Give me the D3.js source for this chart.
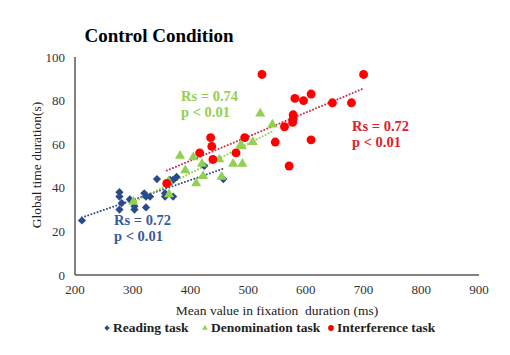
<!DOCTYPE html>
<html><head><meta charset="utf-8">
<script src="https://cdn.jsdelivr.net/npm/d3@7"></script>
<style>
body{margin:0;background:#fff;}
svg text{font-family:'Liberation Serif','Times New Roman',Tinos,'DejaVu Serif',serif;}
</style></head>
<body><svg id="c" width="510" height="355" font-family="'Liberation Serif', 'Times New Roman', serif"></svg>
<script>
const xTicks=[200,300,400,500,600,700,800,900];
const yTicks=[0,20,40,60,80,100];
const readingX=[212,277,277,281,277,295,303,303,320,323,330,323,342,356,370,367,376,370,424,457,365,356];
const readingY=[25,38,36,33,30,34.7,30,31.5,37.5,36,36,31,44,36,36,43,45,43.6,50,44,43.6,37.5];
const denomX=[521,542,508,487,474,490,450,420,405,382,391,410,422,454,363,362,301,489];
const denomY=[74,69,61,59.6,51,51,53,51,54,54.7,48,42,45.4,45,37,43,33.6,59];
const interfX=[524,700,581,609,596,646,679,578,578,577,563,547,609,571,494,479,435,437,439,416,359];
const interfY=[92,92,81,83,80,79,79,73.5,71.7,70,68,61,62,50,63,56,63,59,53,56,42];
const seriesNames=["Reading task","Denomination task","Interference task"];
const stats=[["Rs = 0.72","p < 0.01"],["Rs = 0.74","p < 0.01"],["Rs = 0.72","p < 0.01"]];

const FONT="'Liberation Serif', 'Times New Roman', serif";
const svg=d3.select("#c");
const x=d3.scaleLinear().domain([200,900]).range([75,479]);
const y=d3.scaleLinear().domain([0,100]).range([275,57]);

svg.append("line").attr("x1",75).attr("x2",75).attr("y1",57).attr("y2",275).attr("stroke","#595959").attr("stroke-width",1.5);
svg.append("line").attr("x1",75).attr("x2",479).attr("y1",275).attr("y2",275).attr("stroke","#595959").attr("stroke-width",1.5);
svg.selectAll(".xt").data(xTicks).join("text").attr("font-family",FONT).attr("x",d=>x(d)).attr("y",294).attr("text-anchor","middle").attr("font-size",13).attr("fill","#333").text(d=>d);
svg.selectAll(".yt").data(yTicks).join("text").attr("font-family",FONT).attr("x",65).attr("y",d=>y(d)+4.5).attr("text-anchor","end").attr("font-size",13).attr("fill","#333").text(d=>d);

svg.append("text").attr("font-family",FONT).attr("x",159).attr("y",42).attr("text-anchor","middle").attr("font-size",19).attr("font-weight","bold").attr("fill","#000").text("Control Condition");
svg.append("text").attr("font-family",FONT).attr("x",277).attr("y",315).attr("text-anchor","middle").attr("font-size",13.5).attr("fill","#222").attr("xml:space","preserve").text("Mean value in fixation  duration (ms)");
svg.append("text").attr("font-family",FONT).attr("transform","translate(41,165) rotate(-90)").attr("text-anchor","middle").attr("font-size",13.5).attr("fill","#222").text("Global time duration(s)");

function reg(xs,ys){
  const mx=d3.mean(xs),my=d3.mean(ys);
  let sxy=0,sxx=0;xs.forEach((v,i)=>{sxy+=(v-mx)*(ys[i]-my);sxx+=(v-mx)*(v-mx);});
  const b=sxy/sxx,a=my-b*mx;const x0=d3.min(xs),x1=d3.max(xs);
  return [[x0,a+b*x0],[x1,a+b*x1]];
}
const series=[
 {xs:readingX,ys:readingY,color:"#2B4A8C",line:"#3C4F8F",shape:d3.symbolSquare,rot:45,size:34},
 {xs:denomX,ys:denomY,color:"#92D050",line:"#92D050",shape:d3.symbolTriangle,rot:0,size:44},
 {xs:interfX,ys:interfY,color:"#FF0000",line:"#C8304A",shape:d3.symbolCircle,rot:0,size:62}
];
series.forEach(s=>{
  const r=reg(s.xs,s.ys);
  svg.append("line").attr("x1",x(r[0][0])).attr("y1",y(r[0][1])).attr("x2",x(r[1][0])).attr("y2",y(r[1][1]))
   .attr("stroke",s.line).attr("stroke-width",2).attr("stroke-dasharray","0.1 3.2").attr("stroke-linecap","round");
});
series.forEach(s=>{
  svg.append("g").selectAll("path").data(s.xs.map((v,i)=>[v,s.ys[i]])).join("path")
   .attr("transform",d=>`translate(${x(d[0])},${y(d[1])}) rotate(${s.rot})`)
   .attr("d",d3.symbol().type(s.shape).size(s.size)).attr("fill",s.color);
});
const ann=[{c:"#3A5A9C",x:114,y:225},{c:"#92D050",x:181,y:101},{c:"#E0202A",x:352,y:131}];
ann.forEach((a,i)=>{
  svg.append("text").attr("font-family",FONT).attr("x",a.x).attr("y",a.y).attr("font-size",14.5).attr("font-weight","bold").attr("fill",a.c).text(stats[i][0]);
  svg.append("text").attr("font-family",FONT).attr("x",a.x).attr("y",a.y+16).attr("font-size",14.5).attr("font-weight","bold").attr("fill",a.c).text(stats[i][1]);
});
const leg=[{x:107},{x:205},{x:331}];
leg.forEach((l,i)=>{
  svg.append("path").attr("transform",`translate(${l.x},${328}) rotate(${series[i].rot})`).attr("d",d3.symbol().type(series[i].shape).size(i==2?26:14)).attr("fill",series[i].color);
  svg.append("text").attr("font-family",FONT).attr("x",l.x+6).attr("y",332).attr("font-size",13.5).attr("font-weight","bold").attr("fill","#222").text(seriesNames[i]);
});
</script></body></html>
